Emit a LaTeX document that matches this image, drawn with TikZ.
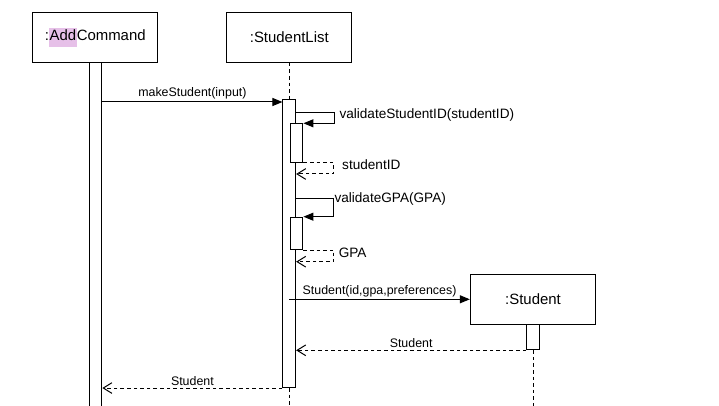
\documentclass[tikz,border=0pt]{standalone}
\usepackage{fontspec}
\setmainfont{Liberation Sans}
\usepackage{xcolor}
\usetikzlibrary{arrows.meta}
\definecolor{addpink}{RGB}{230,192,232}
\newcommand{\hladd}[1]{{\setlength{\fboxsep}{0.4pt}\colorbox{addpink}{\strut #1}}}
\tikzstyle{objbox}    = [rectangle, draw, minimum width=94pt, minimum height=37.5pt, inner sep=0pt,
                         font=\fontsize{11.2}{13.5}\selectfont]
\tikzstyle{actbar}    = [rectangle, draw, fill=white, minimum width=9.5pt, inner sep=0pt, anchor=north]
\tikzstyle{lifeline}  = [dash pattern=on 2.7pt off 2.25pt]
\tikzstyle{msg}       = [-{Triangle[length=7.5pt,width=6pt]}]
\tikzstyle{ret}       = [lifeline, -{Straight Barb[length=6.5pt,width=8pt]}]
\tikzstyle{msglabel}  = [font=\fontsize{9.3}{11}\selectfont, inner sep=1.5pt]
\tikzstyle{selflabel} = [font=\fontsize{10.2}{12}\selectfont, anchor=west, inner sep=0pt]

\begin{document}
\begin{tikzpicture}[x=0.75pt, y=-0.75pt, line width=0.75pt]
    \useasboundingbox (0,0) rectangle (719,406);
    % participants
    \node (addcmd) [objbox] at (95.3,37.3) {:\hladd{Add}Command};
    \node (stlist) [objbox] at (289.3,37.3) {:StudentList};
    % activation bars
    \node (barA) [actbar, minimum height=261pt] at (95.5,62.3) {};
    \node (barL) [actbar, minimum height=215.8pt] at (289.3,99.3) {};
    \node (nestA) [actbar, minimum height=28.75pt] at (296.6,123.3) {};
    \node (nestB) [actbar, minimum height=24.25pt] at (296.6,216.7) {};
    \node (student) [objbox] at (533,299.3) {:Student};
    \node (barS) [actbar, minimum height=18.75pt] at (533,324.3) {};
    % lifelines
    \coordinate (endL) at (289.3,406);
    \coordinate (endS) at (533,406);
    \draw[lifeline] (stlist.south) -- (barL.north);
    \draw[lifeline] (barL.south) -- (endL);
    \draw[lifeline] (barS.south) -- (endS);
    % message rows
    \coordinate (m1) at (0,102);
    \coordinate (s1) at (0,112.3);
    \coordinate (r1) at (0,174);
    \coordinate (s2) at (0,199);
    \coordinate (r2) at (0,261.7);
    \coordinate (c1) at (0,299.3);
    \draw[msg] (barA.east |- m1) -- node[msglabel, above] {makeStudent(input)} (barL.west |- m1);
    \draw[msg] (barL.east |- s1) -- ++(38.6,0) |- (nestA.north east);
    \node (lblS1) [selflabel] at (339,115) {validateStudentID(studentID)};
    \draw[ret] (nestA.south east) -- ++(30.3,0) |- (barL.east |- r1);
    \node (lblR1) [selflabel] at (341.7,165) {studentID};
    \draw[msg] (barL.east |- s2) -- ++(37.3,0) |- (nestB.north east);
    \node (lblS2) [selflabel] at (334,199) {validateGPA(GPA)};
    \draw[ret] (nestB.south east) -- ++(30.3,0) |- (barL.east |- r2);
    \node (lblR2) [selflabel] at (338.3,253.3) {GPA};
    \draw[msg] (barL |- c1) -- node[msglabel, above] {Student(id,gpa,preferences)} (student.west);
    \draw[ret] (barS.south west) -- node[msglabel, above] {Student} (barL.east |- barS.south west);
    \draw[ret] (barL.south west) -- node[msglabel, above] {Student} (barA.east |- barL.south west);
\end{tikzpicture}
\end{document}
